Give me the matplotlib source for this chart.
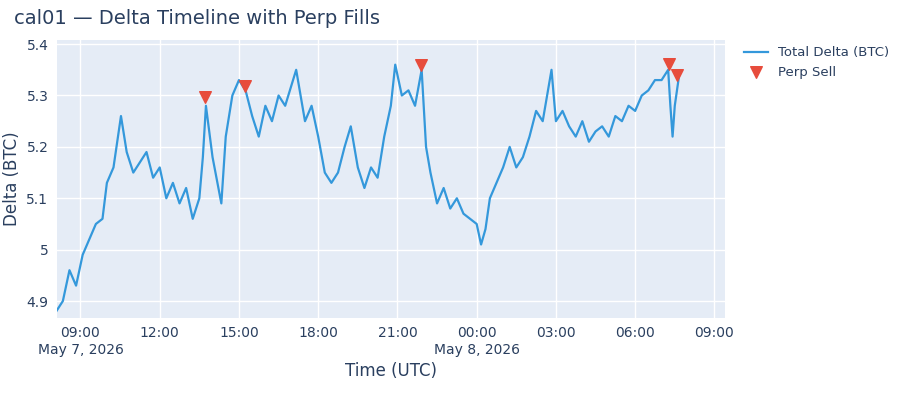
import matplotlib
matplotlib.use("Agg")
import matplotlib.pyplot as plt
import pandas as pd

# delta samples (time, BTC)
times = ["05-07 08:05", "05-07 08:20", "05-07 08:35", "05-07 08:50", "05-07 09:05", "05-07 09:20",
         "05-07 09:35", "05-07 09:50", "05-07 10:00", "05-07 10:15", "05-07 10:32", "05-07 10:45",
         "05-07 11:00", "05-07 11:15", "05-07 11:30", "05-07 11:45", "05-07 12:00", "05-07 12:15",
         "05-07 12:30", "05-07 12:45", "05-07 13:00", "05-07 13:15", "05-07 13:30", "05-07 13:38",
         "05-07 13:45", "05-07 14:00", "05-07 14:20", "05-07 14:30", "05-07 14:45", "05-07 15:00",
         "05-07 15:15", "05-07 15:30", "05-07 15:45", "05-07 16:00", "05-07 16:15", "05-07 16:30",
         "05-07 16:45", "05-07 17:10", "05-07 17:20", "05-07 17:30", "05-07 17:45", "05-07 18:00",
         "05-07 18:15", "05-07 18:30", "05-07 18:45", "05-07 19:00", "05-07 19:14", "05-07 19:30",
         "05-07 19:45", "05-07 20:00", "05-07 20:15", "05-07 20:30", "05-07 20:45", "05-07 20:55",
         "05-07 21:10", "05-07 21:25", "05-07 21:40", "05-07 21:55", "05-07 22:05", "05-07 22:15",
         "05-07 22:30", "05-07 22:45", "05-07 23:00", "05-07 23:15", "05-07 23:30", "05-07 23:45",
         "05-08 00:00", "05-08 00:10", "05-08 00:20", "05-08 00:30", "05-08 00:45", "05-08 01:00",
         "05-08 01:15", "05-08 01:30", "05-08 01:45", "05-08 02:00", "05-08 02:15", "05-08 02:30",
         "05-08 02:50", "05-08 03:00", "05-08 03:15", "05-08 03:30", "05-08 03:45", "05-08 04:00",
         "05-08 04:15", "05-08 04:30", "05-08 04:45", "05-08 05:00", "05-08 05:15", "05-08 05:30",
         "05-08 05:45", "05-08 06:00", "05-08 06:15", "05-08 06:30", "05-08 06:45", "05-08 07:00",
         "05-08 07:15", "05-08 07:20", "05-08 07:25", "05-08 07:30", "05-08 07:40"]
delta = [4.88, 4.90, 4.96, 4.93, 4.99, 5.02,
         5.05, 5.06, 5.13, 5.16, 5.26, 5.19,
         5.15, 5.17, 5.19, 5.14, 5.16, 5.10,
         5.13, 5.09, 5.12, 5.06, 5.10, 5.18,
         5.28, 5.18, 5.09, 5.22, 5.30, 5.33,
         5.31, 5.26, 5.22, 5.28, 5.25, 5.30,
         5.28, 5.35, 5.30, 5.25, 5.28, 5.22,
         5.15, 5.13, 5.15, 5.20, 5.24, 5.16,
         5.12, 5.16, 5.14, 5.22, 5.28, 5.36,
         5.30, 5.31, 5.28, 5.35, 5.20, 5.15,
         5.09, 5.12, 5.08, 5.10, 5.07, 5.06,
         5.05, 5.01, 5.04, 5.10, 5.13, 5.16,
         5.20, 5.16, 5.18, 5.22, 5.27, 5.25,
         5.35, 5.25, 5.27, 5.24, 5.22, 5.25,
         5.21, 5.23, 5.24, 5.22, 5.26, 5.25,
         5.28, 5.27, 5.30, 5.31, 5.33, 5.33,
         5.35, 5.28, 5.22, 5.28, 5.34]

sell_times = ["05-07 13:43", "05-07 15:13", "05-07 21:53", "05-08 07:17", "05-08 07:35"]
sell_delta = [5.297, 5.318, 5.359, 5.361, 5.340]

def to_dt(lst):
    return pd.to_datetime(["2026-" + s for s in lst])

t = to_dt(times)
st = to_dt(sell_times)

text_c = "#2a3f5f"
fig = plt.figure(figsize=(9, 4), dpi=100)
ax = fig.add_axes([0.063, 0.205, 0.743, 0.695])
ax.set_facecolor("#E5ECF6")
ax.plot(t, delta, color="#3498db", lw=1.6, label="Total Delta (BTC)")
ax.scatter(st, sell_delta, marker="v", s=70, color="#e74c3c", zorder=3, label="Perp Sell")

ax.set_xlim(pd.Timestamp("2026-05-07 08:06"), pd.Timestamp("2026-05-08 09:25"))
ax.set_ylim(4.867, 5.408)
ticks = pd.date_range("2026-05-07 09:00", "2026-05-08 09:00", freq="3h")
ax.set_xticks(ticks)
ax.set_xticklabels([d.strftime("%H:%M") + ("\n" + d.strftime("%b %-d, %Y") if i in (0, 5) else "")
                    for i, d in enumerate(ticks)])
for lbl in ax.get_xticklabels():
    lbl.set_horizontalalignment("center")
    lbl.set_multialignment("center")
ax.set_yticks([4.9, 5.0, 5.1, 5.2, 5.3, 5.4])
ax.set_yticklabels(["4.9", "5", "5.1", "5.2", "5.3", "5.4"])
ax.grid(color="white", lw=1)
ax.set_axisbelow(True)
for s in ax.spines.values():
    s.set_visible(False)
ax.tick_params(length=0, colors=text_c, labelsize=10, pad=6)
ax.set_xlabel("Time (UTC)", color=text_c, fontsize=12)
ax.set_ylabel("Delta (BTC)", color=text_c, fontsize=12)
fig.text(0.015, 0.955, "cal01 — Delta Timeline with Perp Fills", fontsize=14, color=text_c, va="center")
ax.legend(loc="upper left", bbox_to_anchor=(1.01, 1.02), frameon=False, fontsize=9.5,
          labelcolor=text_c, handlelength=1.8)
fig.savefig("out.png", dpi=100)
